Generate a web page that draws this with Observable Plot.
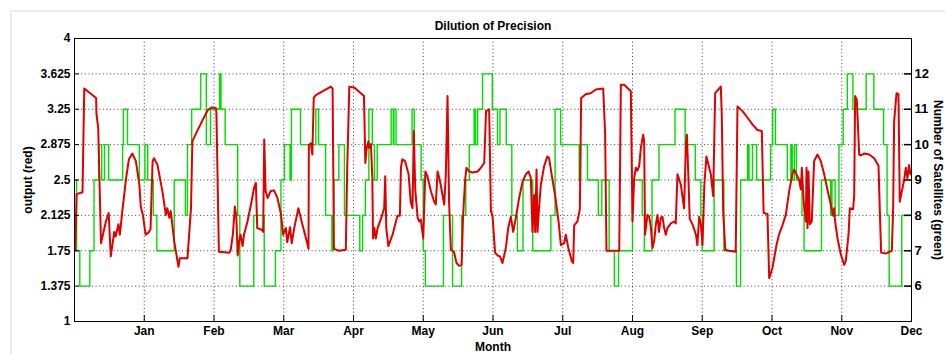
<!DOCTYPE html>
<html>
<head>
<meta charset="utf-8">
<script src="https://cdn.jsdelivr.net/npm/d3@7"></script>
<script src="https://cdn.jsdelivr.net/npm/@observablehq/plot@0.6"></script>
<style>
  html, body { margin: 0; padding: 0; background: #fff; }
  #wrap { position: relative; width: 945px; height: 354px; overflow: hidden; }
  #edge { position: absolute; left: 10px; top: 10px; width: 940px; height: 350px;
          border-top: 2px solid #ececec; border-left: 2px solid #ececec; }
  #chart { position: absolute; left: 0; top: 0; }
  svg text { font-weight: bold; }
</style>
</head>
<body>
<div id="wrap"><div id="edge"></div><div id="chart"></div></div>
<script>
const title = "Dilution of Precision";
const months = ["Jan","Feb","Mar","Apr","May","Jun","Jul","Aug","Sep","Oct","Nov","Dec"];
const monthTicks = [1,2,3,4,5,6,7,8,9,10,11,12];
const outTicks = [1,1.375,1.75,2.125,2.5,2.875,3.25,3.625,4];
const satTicks = [6,7,8,9,10,11,12];

// Red series: output (month position, value)
const redX = [0.01,0.03,0.115,0.14,0.31,0.315,0.34,0.38,0.45,0.49,0.52,0.57,0.59,0.63,0.65,0.69,0.74,0.78,0.83,0.88,0.93,0.95,0.98,1.02,1.07,1.09,1.12,1.14,1.19,1.26,1.31,1.33,1.36,1.38,1.43,1.49,1.51,1.62,1.67,1.69,1.76,1.84,1.91,1.97,2.03,
 2.035,2.07,2.22,2.24,2.27,2.30,2.32,2.34,2.36,2.38,2.41,2.43,2.48,2.53,2.575,2.60,2.62,2.69,2.705,2.72,2.74,2.77,2.81,2.86,2.91,2.96,2.99,3.03,3.05,3.09,3.115,3.15,3.21,3.27,3.33,3.355,3.36,3.39,3.41,3.43,3.46,3.555,3.675,3.70,3.72,3.79,3.89,3.91,3.94,4.01,
 4.15,4.17,4.19,4.215,4.225,4.25,4.27,4.28,4.30,4.32,4.345,4.39,4.44,4.455,4.47,4.50,4.56,4.63,4.665,4.68,4.70,4.74,4.79,4.82,4.846,4.865,4.885,4.92,4.94,4.965,5.00,5.03,5.06,5.11,5.157,5.18,5.205,5.23,5.25,5.30,5.324,5.348,5.37,5.396,5.44,5.477,5.515,5.55,5.57,5.60,5.62,5.66,5.706,5.78,5.826,5.874,5.90,5.945,5.97,5.993,6.03,
 6.065,6.10,6.136,6.184,6.22,6.256,6.29,6.33,6.375,6.423,6.47,6.51,6.543,6.566,6.59,6.605,6.624,6.638,6.66,6.686,6.734,6.78,6.805,6.84,6.89,6.94,6.973,7.02,7.044,7.08,7.13,7.15,7.164,7.21,7.245,7.264,7.33,7.40,7.475,7.58,7.608,7.627,7.81,7.833,7.88,7.976,8.0,8.024,
 8.048,8.07,8.096,8.12,8.153,8.167,8.18,8.215,8.24,8.263,8.287,8.31,8.335,8.358,8.38,8.406,8.43,8.454,8.478,8.50,8.55,8.597,8.62,8.645,8.693,8.74,8.765,8.78,8.80,8.82,8.86,8.91,8.93,8.956,8.98,9.004,9.03,9.06,9.09,9.123,9.157,9.185,9.266,9.28,9.30,9.33,9.386,9.48,9.505,9.577,9.65,9.72,9.79,9.854,9.88,9.935,9.96,10.007,
 10.064,10.10,10.15,10.198,10.246,10.294,10.318,10.35,10.39,10.413,10.428,10.447,10.466,10.485,10.495,10.509,10.523,10.542,10.57,10.604,10.652,10.70,10.748,10.80,10.843,10.877,10.891,10.905,10.94,10.987,11.035,11.058,11.097,11.116,11.163,11.178,11.192,11.216,11.25,11.273,11.321,11.393,11.465,11.527,11.546,11.565,11.632,11.718,11.737,11.751,11.785,11.813,11.832,11.861,11.895,11.918,11.942,11.966,11.985];
const redY = [1.75,2.35,2.37,3.47,3.37,3.2,3.05,1.83,2.06,2.15,1.69,1.95,1.90,2.03,1.92,2.2,2.52,2.72,2.78,2.70,2.45,2.22,2.13,1.92,1.95,1.98,2.70,2.73,2.66,2.38,2.13,2.2,2.10,2.17,1.85,1.58,1.67,1.67,2.2,2.91,3.02,3.14,3.24,3.27,3.26,
 3.2,1.74,1.73,1.76,1.92,2.22,2.11,1.70,1.85,1.92,1.80,1.92,2.06,2.24,2.42,2.47,1.99,1.97,1.95,2.93,2.38,2.31,2.38,2.39,2.31,2.14,1.92,1.99,1.84,2.0,1.83,1.99,2.2,2.02,1.85,1.77,2.87,2.89,2.77,3.37,3.40,3.44,3.49,3.47,1.77,1.75,1.76,2.63,3.49,3.48,
 3.39,2.68,2.84,2.91,2.84,2.88,2.52,1.88,1.99,1.88,1.99,2.08,2.2,2.54,1.99,1.80,1.92,2.12,2.12,2.63,2.72,2.70,2.56,2.27,2.20,3.02,2.40,2.10,2.06,2.08,1.88,2.59,2.54,2.38,2.27,2.24,2.59,2.52,2.45,2.24,2.56,3.39,2.27,1.76,1.74,1.62,1.59,1.60,2.10,2.50,2.63,2.59,2.58,2.59,2.63,2.68,3.23,3.25,2.17,2.12,1.73,
 1.70,1.69,1.62,1.78,2.0,2.11,1.95,2.11,2.31,2.48,2.56,2.59,2.52,1.95,2.34,1.95,2.61,1.95,2.2,2.45,2.65,2.75,2.73,2.56,2.34,2.06,1.81,1.83,1.92,1.78,1.64,1.62,2.02,2.06,2.19,3.37,3.41,3.42,3.46,3.47,2.98,1.75,1.75,3.51,3.51,3.44,2.06,2.52,
 2.63,2.60,2.65,2.84,2.98,2.91,1.92,2.13,2.11,2.0,1.78,1.85,2.03,2.13,1.95,2.10,2.11,1.99,1.92,1.99,2.04,2.06,2.04,2.56,2.45,2.2,2.88,2.98,2.56,2.09,2.03,1.92,1.81,2.11,2.03,1.81,2.45,2.75,2.66,2.56,2.33,3.42,3.49,3.19,2.17,1.76,1.75,1.74,3.28,3.23,3.16,3.09,3.03,3.02,2.15,2.14,1.46,1.57,
 1.81,1.92,2.02,2.13,2.38,2.57,2.61,2.56,2.50,2.40,2.63,2.35,2.17,2.06,2.63,1.99,2.59,2.03,2.06,2.70,2.77,2.70,2.56,2.38,2.24,2.12,2.20,2.06,1.88,1.71,1.60,1.64,1.92,2.2,2.19,2.33,3.39,3.35,2.77,2.76,2.78,2.77,2.73,2.65,2.17,1.73,1.72,1.75,2.2,3.12,3.42,3.41,2.27,2.38,2.50,2.63,2.52,2.66,2.56];

// Green series: number of satellites, step changes (month position, count)
const greenX = [0.0,0.03,0.076,0.22,0.28,0.35,0.39,0.43,0.49,0.69,0.70,0.76,0.93,1.01,1.05,1.13,1.18,1.43,1.59,1.62,1.68,1.81,1.89,1.95,2.08,2.10,2.16,2.34,2.37,2.57,2.72,2.88,2.96,3.01,3.09,3.11,3.24,3.46,3.50,3.60,3.69,3.71,3.72,3.79,3.87,
 4.09,4.13,4.17,4.22,4.27,4.30,4.34,4.54,4.57,4.58,4.61,4.84,4.87,4.97,5.00,5.03,5.29,5.42,5.55,5.61,5.66,5.73,5.75,5.78,5.85,5.99,
 6.065,6.10,6.19,6.27,6.35,6.43,6.57,6.83,6.89,6.97,7.236,7.255,7.355,7.51,7.56,7.665,7.74,7.80,
 8.00,8.14,8.17,8.28,8.38,8.61,8.755,8.90,8.98,9.00,9.17,9.31,9.49,9.55,9.65,9.67,9.72,9.78,9.98,10.01,10.05,
 10.22,10.27,10.29,10.32,10.35,10.43,10.46,10.71,10.84,10.86,10.905,10.96,11.02,11.08,11.16,11.35,11.46,11.60,11.65,11.68,11.86,12.0];
const greenSat = [9,7,6,7,9,10,9,10,9,10,11,10,9,10,9,8,7,9,8,10,11,12,10,11,12,11,10,8,6,8,6,7,9,10,9,11,10,11,10,8,7,8,9,10,8,
 7,8,9,11,10,9,10,11,10,11,10,11,10,9,7,6,8,6,8,9,10,11,10,11,12,11,
 10,11,10,8,7,9,7,8,11,10,9,10,9,8,9,7,6,7,
 9,8,7,9,10,11,10,9,8,7,9,7,6,9,10,9,10,9,10,11,10,
 9,10,9,10,9,8,7,9,8,9,8,10,11,12,11,12,11,10,8,6,8,8];

const red = redX.map((x, i) => ({x, v: redY[i]}));
const green = greenX.map((x, i) => ({x, s: greenSat[i]}));
// satellite count -> output axis position (6 ↔ 1.375, 12 ↔ 3.625)
const satToOut = s => 1 + (s - 5) * 0.375;

const W = 945, H = 354, mL = 74, mR = 34, mT = 38, mB = 33;
const fw = W - mL - mR, fh = H - mT - mB;
const grid = {stroke: "#000", strokeOpacity: 0.75, strokeDasharray: "1,2.6", strokeWidth: 1};

const chart = Plot.plot({
  width: W, height: H,
  marginLeft: mL, marginRight: mR, marginTop: mT, marginBottom: mB,
  style: {fontFamily: "'Liberation Sans', Arial, Helvetica, sans-serif", fontSize: "12px", color: "#000", background: "transparent"},
  x: {domain: [0, 12]},
  y: {domain: [1, 4]},
  marks: [
    Plot.gridX(monthTicks, grid),
    Plot.gridY(outTicks.slice(1, -1), grid),
    Plot.line(green, {x: "x", y: d => satToOut(d.s), curve: "step-after", stroke: "#00dd00", strokeWidth: 1.4}),
    Plot.line(red, {x: "x", y: "v", stroke: "#e00000", strokeWidth: 2, strokeLinejoin: "round"}),
    Plot.frame({stroke: "#000", strokeWidth: 1}),
    Plot.tickY(outTicks, {y: d => d, insetRight: fw - 5, stroke: "#000"}),
    Plot.tickY(satTicks.map(satToOut), {y: d => d, insetLeft: fw - 7, stroke: "#000", strokeWidth: 1.5}),
    Plot.tickX(monthTicks, {x: d => d, insetTop: fh - 6, stroke: "#000"}),
    Plot.axisY(outTicks, {anchor: "left", tickSize: 0, tickPadding: 4, fontSize: 12,
      tickFormat: d => String(d), label: null}),
    Plot.axisY(satTicks.map(satToOut), {anchor: "right", tickSize: 0, tickPadding: 3, fontSize: 13,
      tickFormat: v => String(Math.round((v - 1) / 0.375 + 5)), label: null}),
    Plot.axisX(monthTicks, {anchor: "bottom", tickSize: 0, tickPadding: 5, fontSize: 12,
      tickFormat: d => months[d - 1], label: null}),
    Plot.text([title], {frameAnchor: "top", dy: -9, lineAnchor: "bottom", fontSize: 12, fontWeight: "bold"}),
    Plot.text(["Month"], {frameAnchor: "bottom", dy: 29, lineAnchor: "bottom", fontSize: 12, fontWeight: "bold"}),
    Plot.text(["output (red)"], {frameAnchor: "left", dx: -46, rotate: -90, textAnchor: "middle", fontSize: 12, fontWeight: "bold"}),
    Plot.text(["Number of Satellites (green)"], {frameAnchor: "right", dx: 26, rotate: 90, textAnchor: "middle", fontSize: 12, fontWeight: "bold"})
  ]
});
document.getElementById("chart").appendChild(chart);
</script>
</body>
</html>
